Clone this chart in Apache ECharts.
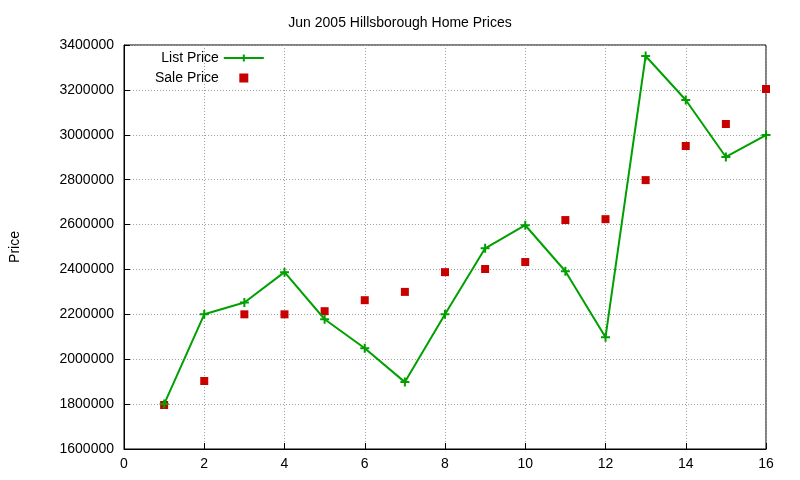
<!DOCTYPE html>
<html><head><meta charset="utf-8">
<script src="https://cdn.jsdelivr.net/npm/echarts@6/dist/echarts.min.js"></script>
<style>html,body{margin:0;padding:0;background:#fff}#c{width:800px;height:480px}</style>
</head><body><div id="c"></div>
<script>
const xs = [1,2,3,4,5,6,7,8,9,10,11,12,13,14,15,16];
const listPrice = [1800000,2200000,2253000,2388000,2178000,2049000,1898000,2200000,2494000,2597000,2392000,2098000,3351000,3155000,2901000,2999000];
const salePrice = [1796000,1903000,2200000,2200000,2214000,2263000,2300000,2388000,2402000,2433000,2620000,2624000,2798000,2950000,3048000,3204000];
const ch = echarts.init(document.getElementById('c'));
const font = 'Liberation Sans';
ch.setOption({
  animation:false,
  textStyle:{fontFamily:font},
  title:{text:'Jun 2005 Hillsborough Home Prices',left:'center',top:11,textStyle:{fontSize:14,fontWeight:'normal',color:'#000',fontFamily:font}},
  grid:{left:120,right:34,top:45,bottom:31,show:true,borderColor:'#000',borderWidth:1},
  legend:{orient:'vertical',left:150,top:46,align:'right',itemWidth:40,itemHeight:9,itemGap:6,
    textStyle:{fontSize:14,color:'#000',fontFamily:font},
    data:['List Price',{name:'Sale Price',icon:'path://M0,0H10V10H0Z'}]},
  xAxis:{type:'value',min:0,max:16,interval:2,
    axisLine:{lineStyle:{color:'#000'}},axisTick:{inside:true,length:6,lineStyle:{color:'#000'}},
    axisLabel:{color:'#000',fontSize:14,margin:8},
    splitLine:{show:true,lineStyle:{color:'#a0a0a0',type:[1,2]}}},
  yAxis:{type:'value',min:1600000,max:3400000,interval:200000,name:'Price',nameLocation:'middle',nameGap:102,
    nameTextStyle:{fontSize:14,color:'#000'},
    axisLine:{lineStyle:{color:'#000'}},axisTick:{inside:true,length:6,lineStyle:{color:'#000'}},
    axisLabel:{color:'#000',fontSize:14,margin:10,formatter:v=>String(v)},
    splitLine:{show:true,lineStyle:{color:'#a0a0a0',type:[1,2]}}},
  series:[
    {name:'List Price',type:'line',data:xs.map((x,i)=>[x,listPrice[i]]),
     symbol:'path://M0,5H10M5,0V10',symbolSize:9,
     lineStyle:{color:'#00a000',width:2},
     itemStyle:{color:'#00a000',borderColor:'#00a000',borderWidth:2}},
    {name:'Sale Price',type:'scatter',data:xs.map((x,i)=>[x,salePrice[i]]),
     symbol:'rect',symbolSize:8,itemStyle:{color:'#c80000',opacity:1}}
  ]
});
</script></body></html>
